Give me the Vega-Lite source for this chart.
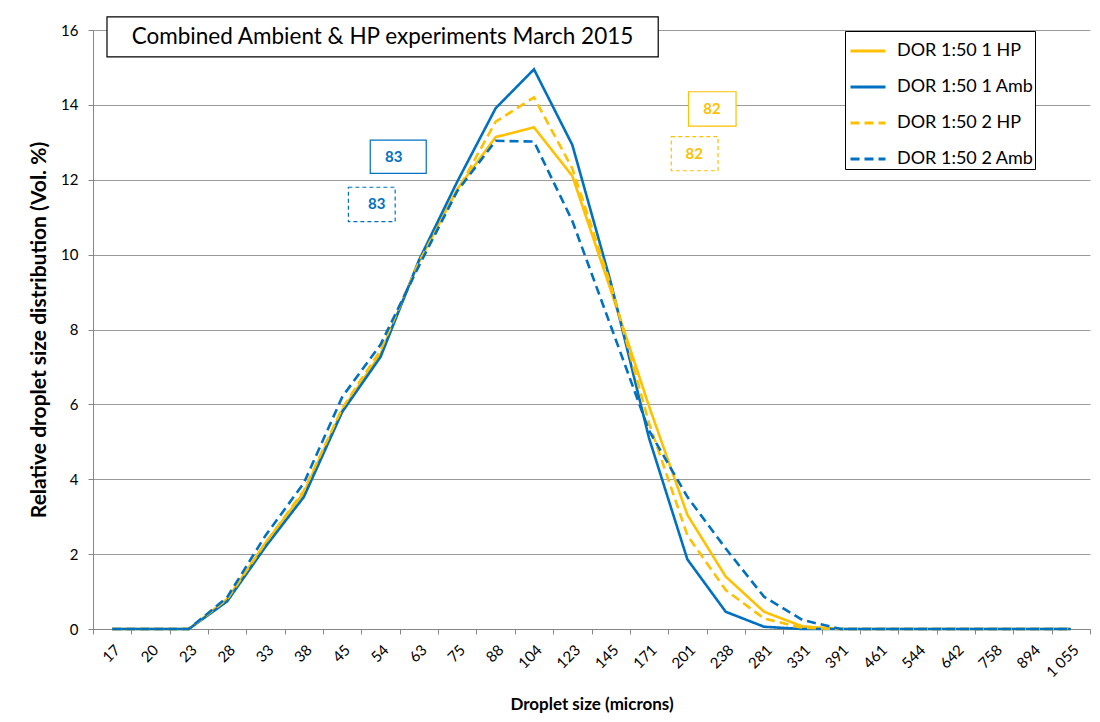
{
  "$schema": "https://vega.github.io/schema/vega-lite/v6.json",
  "width": 997,
  "height": 599,
  "autosize": "none",
  "padding": {"left": 93, "top": 30, "right": 10, "bottom": 93},
  "background": "white",
  "config": {
    "font": "Lato",
    "view": {"stroke": null},
    "axis": {"labelFont": "Lato", "titleFont": "Lato", "labelColor": "black", "titleColor": "black"}
  },
  "datasets": {
    "dist": [
      {"size": "17", "series": "DOR 1:50 1 HP", "vol": 0},
      {"size": "20", "series": "DOR 1:50 1 HP", "vol": 0},
      {"size": "23", "series": "DOR 1:50 1 HP", "vol": 0},
      {"size": "28", "series": "DOR 1:50 1 HP", "vol": 0.8},
      {"size": "33", "series": "DOR 1:50 1 HP", "vol": 2.3},
      {"size": "38", "series": "DOR 1:50 1 HP", "vol": 3.65},
      {"size": "45", "series": "DOR 1:50 1 HP", "vol": 5.85},
      {"size": "54", "series": "DOR 1:50 1 HP", "vol": 7.35},
      {"size": "63", "series": "DOR 1:50 1 HP", "vol": 9.8},
      {"size": "75", "series": "DOR 1:50 1 HP", "vol": 11.75},
      {"size": "88", "series": "DOR 1:50 1 HP", "vol": 13.14},
      {"size": "104", "series": "DOR 1:50 1 HP", "vol": 13.4},
      {"size": "123", "series": "DOR 1:50 1 HP", "vol": 12.1},
      {"size": "145", "series": "DOR 1:50 1 HP", "vol": 9.06},
      {"size": "171", "series": "DOR 1:50 1 HP", "vol": 5.95},
      {"size": "201", "series": "DOR 1:50 1 HP", "vol": 3.05},
      {"size": "238", "series": "DOR 1:50 1 HP", "vol": 1.4},
      {"size": "281", "series": "DOR 1:50 1 HP", "vol": 0.46},
      {"size": "331", "series": "DOR 1:50 1 HP", "vol": 0.07},
      {"size": "391", "series": "DOR 1:50 1 HP", "vol": 0},
      {"size": "461", "series": "DOR 1:50 1 HP", "vol": 0},
      {"size": "544", "series": "DOR 1:50 1 HP", "vol": 0},
      {"size": "642", "series": "DOR 1:50 1 HP", "vol": 0},
      {"size": "758", "series": "DOR 1:50 1 HP", "vol": 0},
      {"size": "894", "series": "DOR 1:50 1 HP", "vol": 0},
      {"size": "1 055", "series": "DOR 1:50 1 HP", "vol": 0},
      {"size": "17", "series": "DOR 1:50 1 Amb", "vol": 0},
      {"size": "20", "series": "DOR 1:50 1 Amb", "vol": 0},
      {"size": "23", "series": "DOR 1:50 1 Amb", "vol": 0},
      {"size": "28", "series": "DOR 1:50 1 Amb", "vol": 0.74},
      {"size": "33", "series": "DOR 1:50 1 Amb", "vol": 2.2},
      {"size": "38", "series": "DOR 1:50 1 Amb", "vol": 3.53},
      {"size": "45", "series": "DOR 1:50 1 Amb", "vol": 5.8},
      {"size": "54", "series": "DOR 1:50 1 Amb", "vol": 7.27},
      {"size": "63", "series": "DOR 1:50 1 Amb", "vol": 9.85},
      {"size": "75", "series": "DOR 1:50 1 Amb", "vol": 11.95},
      {"size": "88", "series": "DOR 1:50 1 Amb", "vol": 13.91},
      {"size": "104", "series": "DOR 1:50 1 Amb", "vol": 14.95},
      {"size": "123", "series": "DOR 1:50 1 Amb", "vol": 12.93},
      {"size": "145", "series": "DOR 1:50 1 Amb", "vol": 9.27},
      {"size": "171", "series": "DOR 1:50 1 Amb", "vol": 5.1},
      {"size": "201", "series": "DOR 1:50 1 Amb", "vol": 1.86},
      {"size": "238", "series": "DOR 1:50 1 Amb", "vol": 0.46},
      {"size": "281", "series": "DOR 1:50 1 Amb", "vol": 0.06},
      {"size": "331", "series": "DOR 1:50 1 Amb", "vol": 0},
      {"size": "391", "series": "DOR 1:50 1 Amb", "vol": 0},
      {"size": "461", "series": "DOR 1:50 1 Amb", "vol": 0},
      {"size": "544", "series": "DOR 1:50 1 Amb", "vol": 0},
      {"size": "642", "series": "DOR 1:50 1 Amb", "vol": 0},
      {"size": "758", "series": "DOR 1:50 1 Amb", "vol": 0},
      {"size": "894", "series": "DOR 1:50 1 Amb", "vol": 0},
      {"size": "1 055", "series": "DOR 1:50 1 Amb", "vol": 0},
      {"size": "17", "series": "DOR 1:50 2 HP", "vol": 0},
      {"size": "20", "series": "DOR 1:50 2 HP", "vol": 0},
      {"size": "23", "series": "DOR 1:50 2 HP", "vol": 0},
      {"size": "28", "series": "DOR 1:50 2 HP", "vol": 0.8},
      {"size": "33", "series": "DOR 1:50 2 HP", "vol": 2.3},
      {"size": "38", "series": "DOR 1:50 2 HP", "vol": 3.7},
      {"size": "45", "series": "DOR 1:50 2 HP", "vol": 5.9},
      {"size": "54", "series": "DOR 1:50 2 HP", "vol": 7.45},
      {"size": "63", "series": "DOR 1:50 2 HP", "vol": 9.8},
      {"size": "75", "series": "DOR 1:50 2 HP", "vol": 11.7},
      {"size": "88", "series": "DOR 1:50 2 HP", "vol": 13.55},
      {"size": "104", "series": "DOR 1:50 2 HP", "vol": 14.2},
      {"size": "123", "series": "DOR 1:50 2 HP", "vol": 12.3},
      {"size": "145", "series": "DOR 1:50 2 HP", "vol": 9.2},
      {"size": "171", "series": "DOR 1:50 2 HP", "vol": 5.5},
      {"size": "201", "series": "DOR 1:50 2 HP", "vol": 2.5},
      {"size": "238", "series": "DOR 1:50 2 HP", "vol": 1.04},
      {"size": "281", "series": "DOR 1:50 2 HP", "vol": 0.28},
      {"size": "331", "series": "DOR 1:50 2 HP", "vol": 0.03},
      {"size": "391", "series": "DOR 1:50 2 HP", "vol": 0},
      {"size": "461", "series": "DOR 1:50 2 HP", "vol": 0},
      {"size": "544", "series": "DOR 1:50 2 HP", "vol": 0},
      {"size": "642", "series": "DOR 1:50 2 HP", "vol": 0},
      {"size": "758", "series": "DOR 1:50 2 HP", "vol": 0},
      {"size": "894", "series": "DOR 1:50 2 HP", "vol": 0},
      {"size": "1 055", "series": "DOR 1:50 2 HP", "vol": 0},
      {"size": "17", "series": "DOR 1:50 2 Amb", "vol": 0},
      {"size": "20", "series": "DOR 1:50 2 Amb", "vol": 0},
      {"size": "23", "series": "DOR 1:50 2 Amb", "vol": 0},
      {"size": "28", "series": "DOR 1:50 2 Amb", "vol": 0.85},
      {"size": "33", "series": "DOR 1:50 2 Amb", "vol": 2.5},
      {"size": "38", "series": "DOR 1:50 2 Amb", "vol": 3.9},
      {"size": "45", "series": "DOR 1:50 2 Amb", "vol": 6.2},
      {"size": "54", "series": "DOR 1:50 2 Amb", "vol": 7.6},
      {"size": "63", "series": "DOR 1:50 2 Amb", "vol": 9.7},
      {"size": "75", "series": "DOR 1:50 2 Amb", "vol": 11.7},
      {"size": "88", "series": "DOR 1:50 2 Amb", "vol": 13.04},
      {"size": "104", "series": "DOR 1:50 2 Amb", "vol": 13.02},
      {"size": "123", "series": "DOR 1:50 2 Amb", "vol": 10.9},
      {"size": "145", "series": "DOR 1:50 2 Amb", "vol": 8.1},
      {"size": "171", "series": "DOR 1:50 2 Amb", "vol": 5.3},
      {"size": "201", "series": "DOR 1:50 2 Amb", "vol": 3.53},
      {"size": "238", "series": "DOR 1:50 2 Amb", "vol": 2.15},
      {"size": "281", "series": "DOR 1:50 2 Amb", "vol": 0.86},
      {"size": "331", "series": "DOR 1:50 2 Amb", "vol": 0.24},
      {"size": "391", "series": "DOR 1:50 2 Amb", "vol": 0},
      {"size": "461", "series": "DOR 1:50 2 Amb", "vol": 0},
      {"size": "544", "series": "DOR 1:50 2 Amb", "vol": 0},
      {"size": "642", "series": "DOR 1:50 2 Amb", "vol": 0},
      {"size": "758", "series": "DOR 1:50 2 Amb", "vol": 0},
      {"size": "894", "series": "DOR 1:50 2 Amb", "vol": 0},
      {"size": "1 055", "series": "DOR 1:50 2 Amb", "vol": 0}
    ],
    "notes": [
      {"series": "DOR 1:50 1 Amb", "run": 1, "label": "83", "x1": 6.73, "x2": 8.19, "y1": 13.06, "y2": 12.17, "tx": 7.34, "ty": 12.6},
      {"series": "DOR 1:50 2 Amb", "run": 2, "label": "83", "x1": 6.16, "x2": 7.38, "y1": 11.8, "y2": 10.88, "tx": 6.9, "ty": 11.35},
      {"series": "DOR 1:50 1 HP", "run": 1, "label": "82", "x1": 15.03, "x2": 16.27, "y1": 14.35, "y2": 13.43, "tx": 15.64, "ty": 13.89},
      {"series": "DOR 1:50 2 HP", "run": 2, "label": "82", "x1": 14.58, "x2": 15.8, "y1": 13.15, "y2": 12.24, "tx": 15.18, "ty": 12.7}
    ],
    "heading": [
      {"label": "Combined Ambient & HP experiments March 2015", "x1": -0.135, "x2": 14.24, "y1": 16.35, "y2": 15.28, "tx": 7.05, "ty": 15.8}
    ]
  },
  "layer": [
    {
      "data": {"name": "dist"},
      "mark": {"type": "line", "strokeWidth": 2.6, "strokeJoin": "miter"},
      "encoding": {
        "x": {
          "field": "size", "type": "ordinal", "bandPosition": 0.5,
          "scale": {"type": "band", "paddingInner": 0, "paddingOuter": 0,
            "domain": ["17","20","23","28","33","38","45","54","63","75","88","104","123","145","171","201","238","281","331","391","461","544","642","758","894","1 055"]},
          "axis": {
            "title": "Droplet size (microns)", "titleFontSize": 17, "titleFontWeight": "bold", "titlePadding": 17,
            "labelAngle": -45, "labelFontSize": 15, "labelPadding": 8,
            "tickBand": "extent", "ticks": true, "tickSize": 5, "tickColor": "#868686",
            "domainColor": "#868686", "domainWidth": 1, "grid": false
          }
        },
        "y": {
          "field": "vol", "type": "quantitative",
          "scale": {"domain": [0, 16], "nice": false},
          "axis": {
            "title": "Relative droplet size distribution (Vol. %)", "titleFontSize": 21, "titleFontWeight": "bold", "titlePadding": 11,
            "values": [0, 2, 4, 6, 8, 10, 12, 14, 16], "labelFontSize": 15, "labelPadding": 10,
            "tickSize": 5, "tickColor": "#868686", "domainColor": "#868686",
            "grid": true, "gridColor": "#9a9a9a", "gridWidth": 1
          }
        },
        "color": {
          "field": "series", "type": "nominal", "title": null,
          "scale": {"domain": ["DOR 1:50 1 HP", "DOR 1:50 1 Amb", "DOR 1:50 2 HP", "DOR 1:50 2 Amb"],
                    "range": ["#FFC000", "#0070C0", "#FFC000", "#0070C0"]},
          "legend": {
            "orient": "none", "legendX": 752, "legendY": 1,
            "symbolType": "stroke", "symbolSize": 1225, "symbolStrokeWidth": 3, "symbolOffset": 3,
            "labelFontSize": 18, "labelFont": "Lato", "labelColor": "black", "labelOffset": 10,
            "rowPadding": 8, "padding": 1, "strokeColor": "black", "fillColor": "white", "labelLimit": 300
          }
        },
        "strokeDash": {
          "field": "series", "type": "nominal", "title": null,
          "scale": {"domain": ["DOR 1:50 1 HP", "DOR 1:50 1 Amb", "DOR 1:50 2 HP", "DOR 1:50 2 Amb"],
                    "range": [[1, 0], [1, 0], [9, 5], [9, 5]]}
        }
      }
    },
    {
      "data": {"name": "notes"},
      "transform": [{"filter": "datum.run == 1"}],
      "mark": {"type": "rect", "fill": "white", "strokeWidth": 1.2},
      "encoding": {
        "x": {"field": "x1", "type": "quantitative", "scale": {"domain": [-0.5, 25.5], "nice": false, "zero": false}, "axis": null},
        "x2": {"field": "x2"},
        "y": {"field": "y1", "type": "quantitative"},
        "y2": {"field": "y2"},
        "stroke": {"field": "series", "type": "nominal", "legend": null,
          "scale": {"domain": ["DOR 1:50 1 HP", "DOR 1:50 1 Amb", "DOR 1:50 2 HP", "DOR 1:50 2 Amb"], "range": ["#FFC000", "#0070C0", "#FFC000", "#0070C0"]}}
      }
    },
    {
      "data": {"name": "notes"},
      "transform": [{"filter": "datum.run == 2"}],
      "mark": {"type": "rect", "fill": "white", "strokeWidth": 1.2, "strokeDash": [4, 3]},
      "encoding": {
        "x": {"field": "x1", "type": "quantitative", "scale": {"domain": [-0.5, 25.5], "nice": false, "zero": false}, "axis": null},
        "x2": {"field": "x2"},
        "y": {"field": "y1", "type": "quantitative"},
        "y2": {"field": "y2"},
        "stroke": {"field": "series", "type": "nominal", "legend": null,
          "scale": {"domain": ["DOR 1:50 1 HP", "DOR 1:50 1 Amb", "DOR 1:50 2 HP", "DOR 1:50 2 Amb"], "range": ["#FFC000", "#0070C0", "#FFC000", "#0070C0"]}}
      }
    },
    {
      "data": {"name": "notes"},
      "mark": {"type": "text", "font": "Lato", "fontWeight": "bold", "fontSize": 15, "align": "center", "baseline": "middle"},
      "encoding": {
        "x": {"field": "tx", "type": "quantitative", "scale": {"domain": [-0.5, 25.5], "nice": false, "zero": false}, "axis": null},
        "y": {"field": "ty", "type": "quantitative"},
        "text": {"field": "label"},
        "fill": {"field": "series", "type": "nominal", "legend": null,
          "scale": {"domain": ["DOR 1:50 1 HP", "DOR 1:50 1 Amb", "DOR 1:50 2 HP", "DOR 1:50 2 Amb"], "range": ["#FFC000", "#0070C0", "#FFC000", "#0070C0"]}}
      }
    },
    {
      "data": {"name": "heading"},
      "mark": {"type": "rect", "fill": "white", "stroke": "black", "strokeWidth": 1.2},
      "encoding": {
        "x": {"field": "x1", "type": "quantitative", "scale": {"domain": [-0.5, 25.5], "nice": false, "zero": false}, "axis": null},
        "x2": {"field": "x2"},
        "y": {"field": "y1", "type": "quantitative"},
        "y2": {"field": "y2"}
      }
    },
    {
      "data": {"name": "heading"},
      "mark": {"type": "text", "font": "Lato", "fontSize": 22.5, "color": "black", "align": "center", "baseline": "middle"},
      "encoding": {
        "x": {"field": "tx", "type": "quantitative", "scale": {"domain": [-0.5, 25.5], "nice": false, "zero": false}, "axis": null},
        "y": {"field": "ty", "type": "quantitative"},
        "text": {"field": "label"}
      }
    }
  ],
  "resolve": {"scale": {"x": "independent"}}
}
